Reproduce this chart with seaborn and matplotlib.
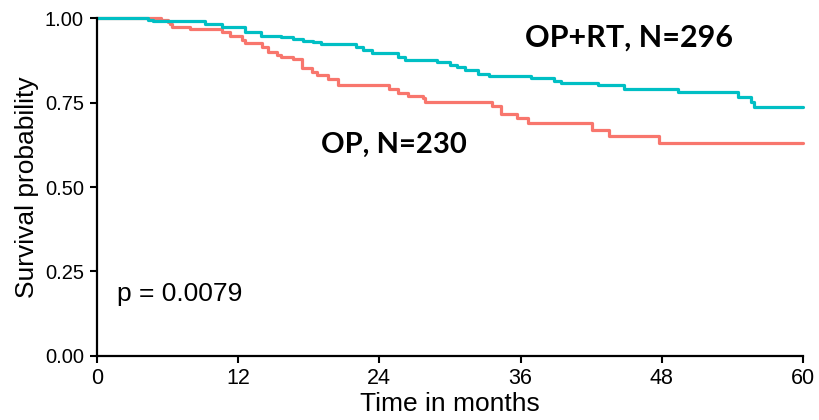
import matplotlib
matplotlib.use("Agg")
import matplotlib.pyplot as plt
import seaborn as sns
import pandas as pd

# Kaplan-Meier step estimates (months, survival probability)
op_rt_time = [0, 4.3, 4.8, 9.2, 10.6, 12.6, 13.9, 15.6, 16.7, 17.5, 18.4, 19.0,
              22.0, 22.6, 23.4, 25.6, 26.2, 28.9, 30.0, 30.6, 31.3, 32.4, 33.3,
              36.9, 38.8, 39.4, 42.6, 44.8, 49.4, 54.5, 55.6, 55.8, 60]
op_rt_surv = [1.0, 0.994, 0.991, 0.983, 0.973, 0.959, 0.948, 0.943, 0.938, 0.933,
              0.928, 0.923, 0.913, 0.905, 0.896, 0.886, 0.876, 0.869, 0.861, 0.854,
              0.846, 0.834, 0.828, 0.822, 0.814, 0.807, 0.802, 0.790, 0.780, 0.767,
              0.752, 0.737, 0.737]

op_time = [0, 5.4, 6.0, 6.2, 6.4, 7.9, 10.6, 11.3, 12.3, 12.6, 14.0, 14.5, 15.3,
           15.6, 16.7, 17.4, 18.3, 18.7, 19.6, 20.5, 24.8, 25.6, 26.4, 27.7, 27.9,
           33.6, 34.3, 35.7, 36.6, 42.1, 43.5, 47.8, 60]
op_surv = [1.0, 0.994, 0.988, 0.981, 0.973, 0.967, 0.959, 0.948, 0.935, 0.925,
           0.913, 0.900, 0.891, 0.885, 0.878, 0.851, 0.841, 0.831, 0.819, 0.802,
           0.789, 0.779, 0.769, 0.762, 0.751, 0.740, 0.716, 0.703, 0.688, 0.669,
           0.651, 0.629, 0.629]

groups = ["OP", "OP+RT"]
group_labels = {"OP": "OP, N=230", "OP+RT": "OP+RT, N=296"}
x_ticks = [0, 12, 24, 36, 48, 60]
y_ticks = [0.0, 0.25, 0.5, 0.75, 1.0]
p_value_text = "p = 0.0079"

df = pd.concat([
    pd.DataFrame({"time": op_time, "surv": op_surv, "group": "OP"}),
    pd.DataFrame({"time": op_rt_time, "surv": op_rt_surv, "group": "OP+RT"}),
], ignore_index=True)

sns.set_theme(style="ticks")
plt.rcParams["font.family"] = ["Liberation Sans", "DejaVu Sans"]

fig = plt.figure(figsize=(8.19, 4.20), dpi=100)
ax = fig.add_axes([0.1184, 0.1524, 0.862, 0.8047])

palette = {"OP": "#F8766D", "OP+RT": "#00BFC4"}
sns.lineplot(data=df, x="time", y="surv", hue="group", hue_order=groups,
             palette=palette, estimator=None, sort=False, units="group",
             drawstyle="steps-post", linewidth=2.3, legend=False, ax=ax)
for line in ax.lines:
    line.set_clip_on(False)

ax.set_xlim(0, 60)
ax.set_ylim(0, 1)
ax.set_xticks(x_ticks)
ax.set_xticklabels([str(t) for t in x_ticks])
ax.set_yticks(y_ticks)
ax.set_yticklabels([f"{v:.2f}" for v in y_ticks])
ax.tick_params(axis="both", length=5, width=1.5, color="black", labelcolor="black")
ax.tick_params(axis="y", labelsize=14.5, pad=4.5)
ax.tick_params(axis="x", labelsize=15.5, pad=4)
for side in ["left", "bottom"]:
    ax.spines[side].set_linewidth(1.6)
    ax.spines[side].set_color("black")
sns.despine(ax=ax)

ax.set_xlabel("Time in months", fontsize=19, labelpad=2, color="black")
ax.set_ylabel("Survival probability", fontsize=19, labelpad=4, color="black")

ax.text(1.7, 0.183, p_value_text, fontsize=19, color="black", va="center", ha="left")
ax.text(45.2, 0.942, group_labels["OP+RT"], fontsize=22, fontweight="bold",
        family=["Lato", "DejaVu Sans"], color="black", ha="center", va="center")
ax.text(25.2, 0.625, group_labels["OP"], fontsize=21, fontweight="bold",
        family=["Lato", "DejaVu Sans"], color="black", ha="center", va="center")

fig.savefig("out.png", dpi=100)
